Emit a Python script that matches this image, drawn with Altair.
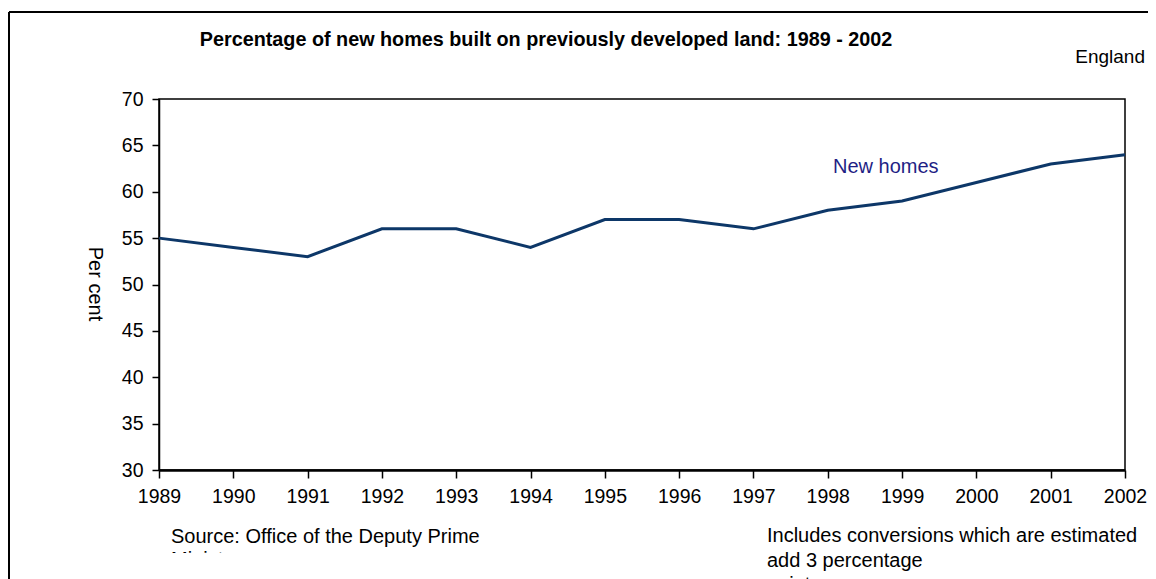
import altair as alt
import pandas as pd

# ---- data ----
years = [1989, 1990, 1991, 1992, 1993, 1994, 1995, 1996, 1997, 1998, 1999, 2000, 2001, 2002]
new_homes = [55, 54, 53, 56, 56, 54, 57, 57, 56, 58, 59, 61, 63, 64]
y_ticks = [30, 35, 40, 45, 50, 55, 60, 65, 70]

title_text = "Percentage of new homes built on previously developed land: 1989 - 2002"
region_text = "England"
series_label = "New homes"
y_title = "Per cent"
source_text = "Source: Office of the Deputy Prime"
source_text2 = "Minister"
note_line1 = "Includes conversions which are estimated"
note_line2 = "add 3 percentage"
note_line3 = "points"

FONT = "Liberation Sans"

df = pd.DataFrame({"Year": years, "Per cent": new_homes})

line = alt.Chart(df).mark_line(color="#0d3768", strokeWidth=3).encode(
    x=alt.X(
        "Year:Q",
        scale=alt.Scale(domain=[1989, 2002], nice=False, zero=False),
        axis=alt.Axis(values=years, format="d", title=None, labelFontSize=19.5,
                      tickSize=8, domainWidth=2.5, tickWidth=1.5, labelPadding=9,
                      labelFlush=False, labelOverlap=False,
                      grid=False, labelColor="black", domainColor="black",
                      tickColor="black", labelFont=FONT),
    ),
    y=alt.Y(
        "Per cent:Q",
        scale=alt.Scale(domain=[30, 70], nice=False, zero=False),
        axis=alt.Axis(values=y_ticks, title=None, labelFontSize=19.5, tickSize=7,
                      domainWidth=1.5, tickWidth=1.5, labelPadding=9, grid=False,
                      labelFlush=False, labelOverlap=False,
                      labelColor="black", domainColor="black", tickColor="black",
                      labelFont=FONT),
    ),
)


def text_layer(txt, x, y, size=20, align="left", bold=False, color="black", angle=0, baseline="middle"):
    kw = dict(x=x, y=y, fontSize=size, align=align, baseline=baseline, font=FONT,
              color=color, fontWeight="bold" if bold else "normal")
    if angle:
        kw["angle"] = angle
    return alt.Chart(pd.DataFrame({"t": [txt]})).mark_text(**kw).encode(text="t:N")


frame_df = pd.DataFrame({"k": [0]})
frame_top = alt.Chart(frame_df).mark_rule(color="black", strokeWidth=2).encode(
    x=alt.value(-150), x2=alt.value(1000), y=alt.value(-87))
frame_left = alt.Chart(frame_df).mark_rule(color="black", strokeWidth=2).encode(
    x=alt.value(-150), y=alt.value(-87), y2=alt.value(480))
# the source text box is cut short below its first line, as in the original
source_box_cut = alt.Chart(frame_df).mark_rect(color="white").encode(
    x=alt.value(1), x2=alt.value(361), y=alt.value(454), y2=alt.value(480))

layers = [
    frame_top, frame_left, line,
    text_layer(title_text, 387, -59, size=19.8, align="center", bold=True),
    text_layer(region_text, 986, -42, size=19, align="right"),
    text_layer(series_label, 674, 68, color="#1f1f85"),
    text_layer(y_title, -64, 185, angle=90, align="center"),
    text_layer(source_text, 12, 438),
    text_layer(source_text2, 12, 461),
    source_box_cut,
    text_layer(note_line1, 608, 437),
    text_layer(note_line2, 608, 462),
    text_layer(note_line3, 608, 486),
]

chart = alt.layer(*layers).properties(
    width=966, height=371,
    autosize=alt.AutoSizeParams(type="none"),
    padding={"left": 151, "top": 91, "right": 23, "bottom": 109},
    background="white",
).configure_view(stroke="black", strokeWidth=1.5)

chart.save("out.html", embed_options={"renderer": "svg", "actions": False})
